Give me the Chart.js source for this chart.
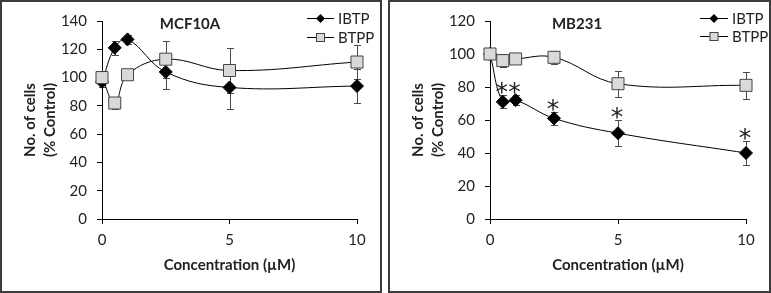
<!DOCTYPE html>
<html lang="en">
<head>
<meta charset="UTF-8">
<title>IBTP / BTPP cell counts</title>
<script src="https://cdn.jsdelivr.net/npm/chart.js"></script>
<style>
  body { margin: 0; background: #fff; }
  .panel { position: absolute; top: 0; height: 289px; border: 2px solid #3c3c3c; background: #fff; }
  .panel canvas { display: block; }
</style>
</head>
<body>
<div class="panel" style="left:0;width:378px"><canvas id="mcf" width="378" height="289"></canvas></div>
<div class="panel" style="left:388px;width:379px"><canvas id="mb" width="379" height="289"></canvas></div>

<script>
// concentration (uM)
const conc = [0, 0.5, 1, 2.5, 5, 10];
const xTicks = [0, 5, 10];

// MCF10A, % of control
const mcfIbtp = [97, 121, 127, 104, 93, 94];
const mcfIbtpErr = [4, 5, 3, 12, 15, 12];
const mcfBtpp = [100, 82, 102, 113, 105, 111];
const mcfBtppErr = [5, 4, 3, 13, 16, 12];

// MB231, % of control
const mbIbtp = [100, 71, 72, 61, 52, 40];
const mbIbtpErr = [0, 4, 3, 4, 8, 7];
const mbBtpp = [100, 96, 97, 98, 82, 81];
const mbBtppErr = [2, 4, 2, 4, 8, 8];
const mbStars = [false, true, true, true, true, true];

Chart.defaults.font.family = 'Lato';
Chart.defaults.color = '#222';

function diamond(ctx, x, y, r) {
    ctx.beginPath();
    ctx.moveTo(x, y - r); ctx.lineTo(x + r, y); ctx.lineTo(x, y + r); ctx.lineTo(x - r, y);
    ctx.closePath();
    ctx.fillStyle = '#000';
    ctx.fill();
}

function square(ctx, x, y, h) {
    ctx.fillStyle = '#d9d9d9';
    ctx.strokeStyle = '#444';
    ctx.lineWidth = 1;
    ctx.fillRect(x - h, y - h, 2 * h, 2 * h);
    ctx.strokeRect(x - h + 0.5, y - h + 0.5, 2 * h - 1, 2 * h - 1);
}

// error bars, panel title, asterisks and the Excel style legend
const decor = {
    id: 'decor',
    beforeDatasetsDraw(chart) {
        const ctx = chart.ctx, xs = chart.scales.x, ys = chart.scales.y;
        ctx.save();
        ctx.strokeStyle = '#4a4a4a';
        ctx.lineWidth = 1;
        chart.data.datasets.forEach(ds => {
            ds.data.forEach((p, i) => {
                const e = ds.errors[i];
                if (!e) return;
                const x = Math.round(xs.getPixelForValue(p.x)) + 0.5;
                const lo = Math.round(ys.getPixelForValue(p.y - e)) + 0.5;
                const hi = Math.round(ys.getPixelForValue(p.y + e)) + 0.5;
                ctx.beginPath();
                ctx.moveTo(x, lo); ctx.lineTo(x, hi);
                ctx.moveTo(x - 3.5, lo); ctx.lineTo(x + 3.5, lo);
                ctx.moveTo(x - 3.5, hi); ctx.lineTo(x + 3.5, hi);
                ctx.stroke();
            });
        });
        ctx.restore();
    },
    afterDatasetsDraw(chart, args, opts) {
        const ctx = chart.ctx, xs = chart.scales.x, ys = chart.scales.y;
        ctx.save();

        // panel title
        ctx.font = 'bold 15px Lato';
        ctx.fillStyle = '#222';
        ctx.textAlign = 'center';
        ctx.textBaseline = 'middle';
        ctx.fillText(opts.title, opts.titleX, 22);

        // significance marks over IBTP
        if (opts.stars) {
            const ds = chart.data.datasets[0];
            ctx.font = '25px "DejaVu Sans"';
            ctx.textBaseline = 'alphabetic';
            const m = ctx.measureText('*');
            const mid = (m.actualBoundingBoxAscent - m.actualBoundingBoxDescent) / 2;
            opts.stars.forEach((s, i) => {
                if (!s) return;
                const p = ds.data[i];
                const top = ys.getPixelForValue(p.y + ds.errors[i]);
                ctx.fillText('*', xs.getPixelForValue(p.x) - 1, top - 7 + mid);
            });
        }

        // legend
        const lg = opts.legend;
        chart.data.datasets.forEach((ds, i) => {
            const y = lg.y + i * lg.gap;
            ctx.strokeStyle = '#000';
            ctx.lineWidth = 1;
            ctx.beginPath();
            ctx.moveTo(lg.x1, y + 0.5); ctx.lineTo(lg.x2, y + 0.5);
            ctx.stroke();
            const mx = (lg.x1 + lg.x2) / 2;
            if (ds.pointStyle === 'rectRot') diamond(ctx, mx, y + 0.5, 4.5);
            else square(ctx, mx, y + 0.5, 4.5);
            ctx.font = '15px Lato';
            ctx.fillStyle = '#222';
            ctx.textAlign = 'left';
            ctx.textBaseline = 'middle';
            ctx.fillText(ds.label, lg.x2 + 4, y + 1);
        });
        ctx.restore();
    }
};

function series(label, ys, errs, style) {
    const isDiamond = style === 'rectRot';
    return {
        label: label,
        data: conc.map((c, i) => ({ x: c, y: ys[i] })),
        errors: errs,
        order: isDiamond ? 1 : 0,   // squares sit on top of the diamonds
        clip: false,
        borderColor: '#000',
        borderWidth: 1,
        tension: 0.4,
        pointStyle: style,
        pointRadius: isDiamond ? 6.5 : 8.5,
        pointBackgroundColor: isDiamond ? '#000' : '#d9d9d9',
        pointBorderColor: isDiamond ? '#000' : '#444',
        pointBorderWidth: 1
    };
}

function makeChart(id, sets, yMax, deco) {
    return new Chart(document.getElementById(id), {
        type: 'line',
        data: { datasets: sets },
        options: {
            responsive: false,
            animation: false,
            layout: { padding: { top: 15, right: 23, left: 0, bottom: 0 } },
            plugins: { legend: { display: false }, tooltip: { enabled: false }, decor: deco },
            scales: {
                x: {
                    type: 'linear',
                    min: 0,
                    max: 10,
                    afterBuildTicks: s => { s.ticks = xTicks.map(v => ({ value: v })); },
                    afterFit: s => { s.height = 72; },
                    grid: { drawOnChartArea: false, tickLength: 5, color: '#000' },
                    border: { color: '#000' },
                    ticks: { padding: 7, font: { size: 15 } },
                    title: { display: true, text: 'Concentration (µM)', font: { size: 15, weight: 'bold' }, padding: { bottom: 17 } }
                },
                y: {
                    min: 0,
                    max: yMax,
                    afterFit: s => { s.width = 100; },
                    grid: { drawOnChartArea: false, tickLength: 5, color: '#000' },
                    border: { color: '#000' },
                    ticks: { stepSize: 20, padding: 10, font: { size: 15 } },
                    title: { display: true, text: ['No. of cells', '(% Control)'], font: { size: 15, weight: 'bold', lineHeight: 1.33 }, padding: { top: 18 } }
                }
            }
        },
        plugins: [decor]
    });
}

makeChart('mcf', [
    series('IBTP', mcfIbtp, mcfIbtpErr, 'rectRot'),
    series('BTPP', mcfBtpp, mcfBtppErr, 'rect')
], 140, { title: 'MCF10A', titleX: 188, legend: { x1: 305, x2: 332, y: 16, gap: 19 } });

makeChart('mb', [
    series('IBTP', mbIbtp, mbIbtpErr, 'rectRot'),
    series('BTPP', mbBtpp, mbBtppErr, 'rect')
], 120, { title: 'MB231', titleX: 187, stars: mbStars, legend: { x1: 310, x2: 338, y: 16, gap: 18 } });
</script>
</body>
</html>
